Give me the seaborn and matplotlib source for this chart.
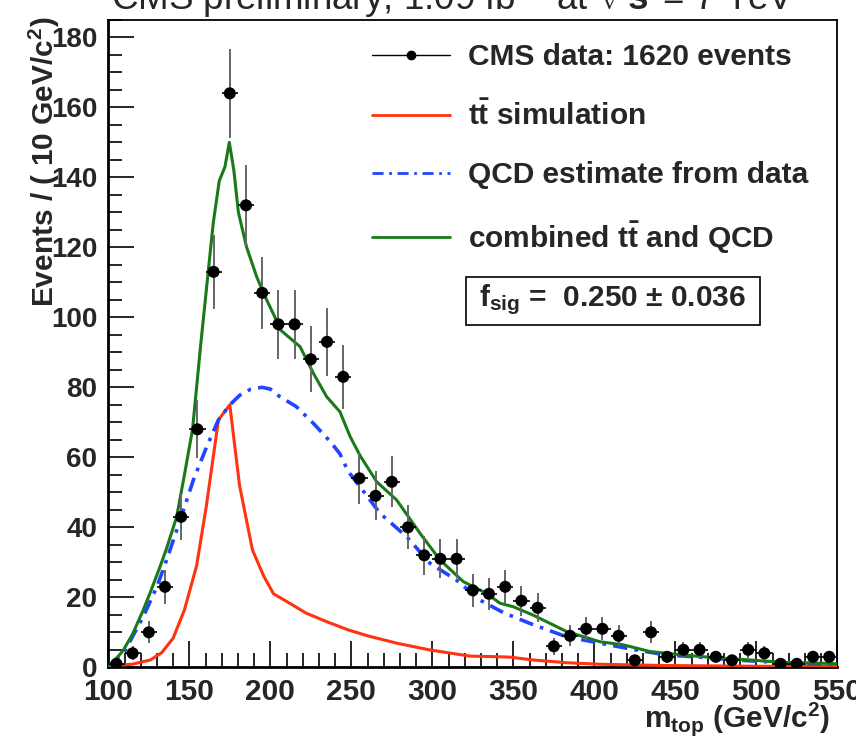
import numpy as np
import pandas as pd
import matplotlib
matplotlib.use("Agg")
import matplotlib.pyplot as plt
import seaborn as sns
from matplotlib.lines import Line2D
from matplotlib.patches import Rectangle
from matplotlib.ticker import MultipleLocator

# ---- reconstructed top-quark mass, 10 GeV bins ----
mtop_bins = [105, 115, 125, 135, 145, 155, 165, 175, 185, 195,
             205, 215, 225, 235, 245, 255, 265, 275, 285, 295,
             305, 315, 325, 335, 345, 355, 365, 375, 385, 395,
             405, 415, 425, 435, 445, 455, 465, 475, 485, 495,
             505, 515, 525, 535, 545]
data_counts = [1, 4, 10, 23, 43, 68, 113, 164, 132, 107,
               98, 98, 88, 93, 83, 54, 49, 53, 40, 32,
               31, 31, 22, 21, 23, 19, 17, 6, 9, 11,
               11, 9, 2, 10, 3, 5, 5, 3, 2, 5,
               4, 1, 1, 3, 3]

# ttbar simulation template
tt_mass = [100, 115, 126, 133, 140, 147, 154.5, 160.5, 168, 175,
           181, 189, 196, 202, 212, 222, 235, 248, 260, 278,
           298, 323, 342, 348, 362, 383, 404, 445, 500, 550]
tt_sim = [0.3, 0.9, 2.1, 4.2, 8.3, 16.4, 29, 46, 70.7, 75,
          52, 33.5, 26, 21, 18.3, 15.5, 13, 10.7, 9, 6.9,
          5.0, 3.2, 3.0, 2.9, 2.1, 1.3, 0.86, 0.5, 0.3, 0.2]

# QCD background shape estimated from data
qcd_mass = [100, 110, 121.6, 130, 136, 144.3, 152.5, 160.7, 168, 175,
            181.3, 188, 195, 200, 206, 216, 226.6, 237, 243, 248,
            255.4, 267.7, 284.2, 298.6, 315, 329.4, 344, 361, 383, 403.5,
            424, 444.7, 465.3, 485.8, 506.4, 527, 550]
qcd_est = [0.3, 4.5, 14.5, 23, 30.7, 42, 53.5, 63, 70.7, 75,
           77.8, 79.5, 80, 79.5, 77.3, 74.5, 69.7, 64.5, 61, 56,
           51.6, 44, 37.3, 29.7, 24.9, 19.2, 15.6, 12.4, 8.7, 6.9,
           5.1, 3.5, 2.9, 2.1, 1.6, 1.1, 0.8]

# combined ttbar + QCD fit
comb_mass = [100, 105, 109.3, 115, 121.6, 126, 131.9, 136, 142.2, 147,
             152, 157, 161, 164.8, 168.5, 172, 174.7, 177.5, 180.3, 185.4,
             191.6, 196.7, 202.9, 206, 218.4, 226.6, 234.8, 243, 249.2, 255.4,
             265.7, 278, 292.4, 304.7, 319.1, 333.5, 341.8, 350, 362.3, 383,
             403.5, 418, 434.4, 455, 475.6, 496, 516.7, 545.4, 550]
comb_fit = [0.3, 2.5, 4.9, 9.5, 16.4, 21.5, 28.7, 34, 43, 55,
            68, 92, 110, 127, 139, 143, 150, 142, 130, 120,
            111.6, 106, 100, 96.5, 91.6, 84, 77.3, 73, 66, 60.5,
            53, 47.8, 38.3, 30.7, 24.5, 21.1, 18.3, 17.3, 14.9, 10.2,
            7.3, 6.4, 4.5, 3.5, 2.7, 2.1, 1.4, 1.1, 1.0]

legend_labels = ["CMS data: 1620 events",
                 r"t$\bar{\mathbf{t}}$ simulation",
                 "QCD estimate from data",
                 r"combined t$\bar{\mathbf{t}}$ and QCD"]

RED = "#ff3311"
BLUE = "#2244ff"
GREEN = "#1a7a1a"
DASHDOT = (0, (4, 2, 1, 2))

sns.set_theme(style="white")
plt.rcParams["font.family"] = ["Liberation Sans", "DejaVu Sans"]
plt.rcParams["font.weight"] = "bold"
plt.rcParams["mathtext.fontset"] = "custom"
plt.rcParams["mathtext.rm"] = "Liberation Sans"
plt.rcParams["mathtext.bf"] = "Liberation Sans:bold"
plt.rcParams["mathtext.it"] = "Liberation Sans:italic"
plt.rcParams["mathtext.sf"] = "Liberation Sans"
plt.rcParams["mathtext.default"] = "bf"

W, H = 856, 738
fig = plt.figure(figsize=(W / 100, H / 100), dpi=100)
ax_l, ax_r, ax_t, ax_b = 108.3, 837.3, 19.5, 667.3
ax = fig.add_axes([ax_l / W, 1 - ax_b / H, (ax_r - ax_l) / W, (ax_b - ax_t) / H])

df_tt = pd.DataFrame({"m": tt_mass, "n": tt_sim})
df_qcd = pd.DataFrame({"m": qcd_mass, "n": qcd_est})
df_comb = pd.DataFrame({"m": comb_mass, "n": comb_fit})

sns.lineplot(data=df_tt, x="m", y="n", ax=ax, color=RED, lw=2.2,
             estimator=None, sort=False, zorder=3)
sns.lineplot(data=df_qcd, x="m", y="n", ax=ax, color=BLUE, lw=2.6,
             linestyle=DASHDOT, estimator=None, sort=False, zorder=3)
sns.lineplot(data=df_comb, x="m", y="n", ax=ax, color=GREEN, lw=2.2,
             estimator=None, sort=False, zorder=4)

counts = np.array(data_counts, dtype=float)
ax.errorbar(mtop_bins, counts, yerr=np.sqrt(counts), fmt="none",
            ecolor="#666666", elinewidth=1.4, zorder=5)
ax.errorbar(mtop_bins, counts, xerr=5, fmt="none",
            ecolor="black", elinewidth=1.2, zorder=5)
df_data = pd.DataFrame({"m": mtop_bins, "n": counts})
sns.scatterplot(data=df_data, x="m", y="n", ax=ax, color="black", s=75,
                edgecolor="none", zorder=6)

ax.set_xlim(100, 550)
ax.set_ylim(0, 185.1)
ax.xaxis.set_major_locator(MultipleLocator(50))
ax.xaxis.set_minor_locator(MultipleLocator(10))
ax.yaxis.set_major_locator(MultipleLocator(20))
ax.yaxis.set_minor_locator(MultipleLocator(5))
ax.tick_params(which="both", direction="in", top=False, right=False,
               bottom=True, left=True, color="black", width=1.2)
ax.tick_params(which="major", length=19, pad=8)
ax.tick_params(which="minor", length=10)
ax.tick_params(axis="x", which="major", labelsize=21.5)
ax.tick_params(axis="y", which="major", labelsize=20)
for sp in ax.spines.values():
    sp.set_color("black")
    sp.set_linewidth(1.3)
ax.spines["left"].set_linewidth(2)
ax.spines["bottom"].set_linewidth(2)

ax.set_xlabel(r"m$_{\mathbf{top}}$ (GeV/c$^{\mathbf{2}}$)", fontsize=21.5,
              fontweight="bold", loc="right")
ax.xaxis.set_label_coords((830 - ax_l) / (ax_r - ax_l), (ax_b - 727) / (ax_b - ax_t))
ax.xaxis.label.set_va("baseline")
ax.xaxis.label.set_ha("right")
ax.set_ylabel(r"Events / ( 10 GeV/c$^{\mathbf{2}}$)", fontsize=21.5,
              fontweight="bold", loc="top")
ax.yaxis.set_label_coords((44 - ax_l) / (ax_r - ax_l), (ax_b - 17) / (ax_b - ax_t))
ax.yaxis.label.set_va("center")
ax.yaxis.label.set_ha("right")

handles = [Line2D([], [], color="black", lw=1, marker="o", markersize=6),
           Line2D([], [], color=RED, lw=2),
           Line2D([], [], color=BLUE, lw=2, linestyle=DASHDOT),
           Line2D([], [], color=GREEN, lw=2)]
ax.legend(handles, legend_labels, loc="upper left",
          bbox_to_anchor=(372 / W, 1 - 43 / H), bbox_transform=fig.transFigure,
          frameon=False, prop={"weight": "bold", "size": 21.5},
          handlelength=2.6, handletextpad=0.6, labelspacing=1.0,
          borderpad=0, borderaxespad=0)

fig.patches.append(Rectangle((466 / W, 1 - 325 / H), (760 - 466) / W, 48 / H,
                             transform=fig.transFigure, fill=False,
                             edgecolor="black", lw=1.2, zorder=10))
fig.text(613 / W, 1 - 306 / H, r"f$_{\mathbf{sig}}$ =  0.250 ± 0.036",
         ha="center", va="baseline", fontsize=21.5, fontweight="bold", zorder=11)

fig.text(453 / W, 1 - 10 / H,
         r"CMS preliminary, 1.09 fb$^{\mathrm{-1}}$ at $\sqrt{\mathrm{s}}$ = 7 TeV",
         ha="center", va="baseline", fontsize=26.5, fontweight="normal")

fig.savefig("out.png", dpi=100)
